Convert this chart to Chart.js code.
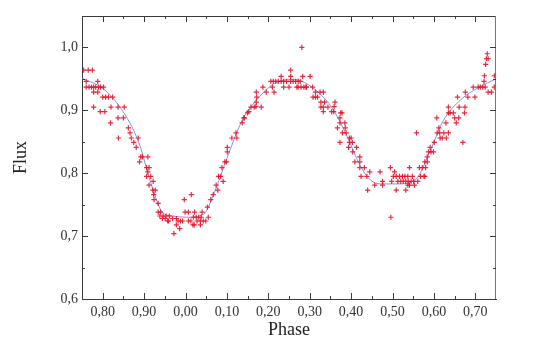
<!DOCTYPE html>
<html><head><meta charset="utf-8">
<script src="https://cdn.jsdelivr.net/npm/chart.js@4/dist/chart.umd.min.js"></script>
<style>html,body{margin:0;padding:0;background:#fff}canvas{display:block}</style>
</head><body>
<canvas id="c" width="535" height="355"></canvas>
<script>
const phase = [-0.246,-0.235,-0.225,-0.240,-0.212,-0.240,-0.233,-0.227,-0.222,-0.217,-0.210,-0.205,-0.198,-0.222,-0.212,-0.200,-0.193,-0.186,-0.176,-0.222,-0.180,-0.163,-0.148,-0.206,-0.195,-0.181,-0.163,-0.150,-0.162,-0.138,-0.134,-0.131,-0.114,-0.125,-0.119,-0.108,-0.104,-0.091,-0.111,-0.094,-0.088,-0.091,-0.094,-0.084,-0.078,-0.088,-0.079,-0.073,-0.077,-0.076,-0.066,-0.066,-0.060,-0.062,-0.054,-0.047,-0.039,-0.056,-0.049,-0.043,-0.041,-0.022,-0.014,-0.028,-0.018,-0.012,-0.007,-0.031,-0.022,-0.003,-0.001,0.007,0.014,0.007,0.013,0.018,0.021,0.019,0.026,0.032,0.038,0.028,0.036,0.043,0.049,0.022,0.040,0.036,0.053,0.055,0.061,0.067,0.074,0.078,0.080,0.085,0.088,0.091,0.095,0.099,0.101,0.101,0.112,0.124,0.122,0.137,0.141,0.142,0.150,0.153,0.158,0.166,0.170,0.171,0.172,0.171,0.183,0.187,0.195,0.214,0.210,0.206,0.212,0.218,0.224,0.231,0.237,0.244,0.231,0.254,0.254,0.260,0.266,0.272,0.254,0.237,0.250,0.269,0.272,0.279,0.286,0.292,0.283,0.301,0.281,0.277,0.291,0.307,0.314,0.325,0.333,0.308,0.314,0.319,0.327,0.336,0.327,0.333,0.344,0.333,0.353,0.358,0.361,0.359,0.375,0.378,0.373,0.373,0.385,0.367,0.386,0.379,0.388,0.396,0.400,0.373,0.396,0.403,0.394,0.413,0.404,0.421,0.409,0.421,0.421,0.432,0.445,0.470,0.424,0.438,0.476,0.457,0.476,0.440,0.495,0.498,0.513,0.520,0.526,0.532,0.538,0.545,0.502,0.509,0.517,0.524,0.530,0.537,0.548,0.505,0.537,0.541,0.553,0.509,0.532,0.496,0.558,0.541,0.565,0.551,0.561,0.568,0.576,0.578,0.572,0.580,0.578,0.584,0.584,0.587,0.593,0.591,0.601,0.599,0.607,0.608,0.614,0.612,0.615,0.620,0.630,0.624,0.635,0.629,0.635,0.639,0.635,0.647,0.650,0.660,0.654,0.661,0.675,0.657,0.674,0.670,0.676,0.682,0.699,0.695,0.707,0.712,0.718,0.724,0.721,0.722,0.725,0.727,0.731,0.729,0.731,0.739,0.746,0.746];
const flux = [0.964,0.964,0.964,0.946,0.946,0.937,0.937,0.937,0.937,0.937,0.937,0.937,0.937,0.929,0.929,0.921,0.921,0.921,0.921,0.905,0.905,0.905,0.905,0.898,0.898,0.880,0.888,0.888,0.856,0.872,0.864,0.856,0.856,0.849,0.841,0.826,0.826,0.826,0.818,0.809,0.809,0.802,0.795,0.795,0.787,0.781,0.773,0.773,0.766,0.758,0.752,0.738,0.738,0.732,0.732,0.732,0.732,0.728,0.728,0.724,0.724,0.718,0.712,0.704,0.724,0.724,0.724,0.728,0.728,0.758,0.738,0.738,0.766,0.724,0.724,0.718,0.718,0.730,0.730,0.730,0.730,0.724,0.724,0.724,0.724,0.738,0.738,0.718,0.746,0.730,0.758,0.766,0.781,0.773,0.795,0.795,0.809,0.787,0.818,0.818,0.834,0.841,0.856,0.856,0.864,0.880,0.888,0.888,0.896,0.898,0.905,0.905,0.906,0.913,0.921,0.929,0.905,0.937,0.929,0.929,0.937,0.946,0.946,0.946,0.946,0.946,0.946,0.946,0.954,0.964,0.946,0.946,0.946,0.946,0.954,0.937,0.937,0.937,0.937,0.937,0.937,0.937,0.954,0.954,1.000,0.946,0.937,0.937,0.929,0.929,0.929,0.921,0.921,0.921,0.913,0.913,0.905,0.905,0.905,0.898,0.898,0.898,0.913,0.906,0.896,0.896,0.888,0.880,0.880,0.872,0.872,0.864,0.864,0.856,0.856,0.849,0.849,0.849,0.841,0.841,0.834,0.826,0.818,0.818,0.809,0.809,0.802,0.802,0.795,0.795,0.787,0.781,0.781,0.773,0.809,0.787,0.787,0.787,0.787,0.787,0.787,0.787,0.795,0.795,0.795,0.795,0.795,0.795,0.795,0.802,0.781,0.781,0.781,0.773,0.773,0.730,0.864,0.809,0.809,0.787,0.787,0.795,0.795,0.795,0.809,0.809,0.818,0.818,0.826,0.834,0.834,0.841,0.849,0.834,0.888,0.864,0.864,0.872,0.856,0.856,0.856,0.864,0.864,0.880,0.896,0.896,0.905,0.896,0.888,0.888,0.880,0.905,0.905,0.921,0.896,0.849,0.929,0.921,0.921,0.937,0.937,0.937,0.937,0.937,0.946,0.955,0.973,0.982,0.982,0.990,0.929,0.929,0.937,0.955];
const fitPhase = [-0.25,-0.198,-0.156,-0.114,-0.081,-0.056,-0.031,0.003,0.044,0.069,0.103,0.137,0.179,0.221,0.263,0.288,0.322,0.355,0.388,0.422,0.447,0.472,0.514,0.556,0.590,0.623,0.665,0.707,0.75];
const fitFlux = [0.951,0.934,0.903,0.851,0.779,0.738,0.732,0.730,0.735,0.768,0.829,0.884,0.922,0.945,0.949,0.944,0.928,0.903,0.862,0.812,0.789,0.783,0.783,0.790,0.834,0.884,0.917,0.936,0.950];
const xTickValues = [-0.2,-0.1,0.0,0.1,0.2,0.3,0.4,0.5,0.6,0.7];
const xTickLabels = ['0,80','0,90','0,00','0,10','0,20','0,30','0,40','0,50','0,60','0,70'];
const yTickValues = [0.6,0.7,0.8,0.9,1.0];
const yTickLabels = ['0,6','0,7','0,8','0,9','1,0'];

const FONT = "'Liberation Serif', 'Times New Roman', serif";
const frameColor = '#3a3a3a';

const ticksPlugin = {
  id: 'inwardTicks',
  afterDatasetsDraw(chart) {
    const {ctx, chartArea: a, scales: {x, y}} = chart;
    ctx.save();
    ctx.strokeStyle = frameColor;
    ctx.lineWidth = 1;
    ctx.beginPath();
    ctx.moveTo(a.left, a.top + 0.5); ctx.lineTo(a.right, a.top + 0.5);
    ctx.stroke();
    ctx.strokeStyle = '#777';
    ctx.beginPath();
    ctx.moveTo(a.right - 0.5, a.top); ctx.lineTo(a.right - 0.5, a.bottom);
    ctx.stroke();
    ctx.strokeStyle = frameColor;
    ctx.beginPath();
    for (let i = -4; i <= 15; i++) {
      const v = i * 0.05;
      if (v < -0.25 + 1e-9 || v > 0.75 - 1e-9) continue;
      const px = Math.round(x.getPixelForValue(v)) + 0.5;
      const len = (i % 2 === 0) ? 6 : 3;
      ctx.moveTo(px, a.bottom); ctx.lineTo(px, a.bottom - len);
      ctx.moveTo(px, a.top); ctx.lineTo(px, a.top + len);
    }
    for (let i = 12; i <= 21; i++) {
      const v = i * 0.05;
      if (v < 0.6 + 1e-9 || v > 1.05 - 1e-9) continue;
      const py = Math.round(y.getPixelForValue(v)) + 0.5;
      const len = (i % 2 === 0) ? 6 : 3;
      ctx.moveTo(a.left, py); ctx.lineTo(a.left + len, py);
      ctx.moveTo(a.right, py); ctx.lineTo(a.right - len, py);
    }
    ctx.stroke();
    ctx.restore();
  }
};

new Chart(document.getElementById('c'), {
  type: 'scatter',
  data: {
    datasets: [
      {
        type: 'line',
        data: fitPhase.map((p, i) => ({x: p, y: fitFlux[i]})),
        borderColor: 'rgba(120,120,230,0.85)',
        borderWidth: 1,
        pointRadius: 0,
        tension: 0.4,
        cubicInterpolationMode: 'monotone',
        fill: false,
        order: 2
      },
      {
        data: phase.map((p, i) => ({x: p, y: flux[i]})),
        pointStyle: 'cross',
        pointRadius: 2.6,
        borderWidth: 1.2,
        borderColor: 'rgba(228,20,40,0.9)',
        backgroundColor: 'rgba(228,20,40,0.9)',
        order: 1
      }
    ]
  },
  options: {
    responsive: false,
    animation: false,
    events: [],
    layout: {padding: {top: 16, right: 39, left: 0, bottom: 0}},
    plugins: {legend: {display: false}, tooltip: {enabled: false}},
    scales: {
      x: {
        type: 'linear', min: -0.25, max: 0.75,
        grid: {display: false, drawTicks: false},
        border: {display: true, color: frameColor, width: 1},
        afterBuildTicks: s => { s.ticks = xTickValues.map(v => ({value: v})); },
        afterFit: s => { s.height = 56; },
        ticks: {
          padding: 5, color: '#333', maxRotation: 0, autoSkip: false,
          font: {family: FONT, size: 14},
          callback: (v, i) => xTickLabels[i]
        },
        title: {display: true, text: 'Phase', color: '#222', font: {family: FONT, size: 18}, padding: {top: 0, bottom: 14}}
      },
      y: {
        type: 'linear', min: 0.6, max: 1.05,
        grid: {display: false, drawTicks: false},
        border: {display: true, color: frameColor, width: 1},
        afterBuildTicks: s => { s.ticks = yTickValues.map(v => ({value: v})); },
        afterFit: s => { s.width = 82; },
        ticks: {
          padding: 4, color: '#333', autoSkip: false,
          font: {family: FONT, size: 14},
          callback: (v, i) => yTickLabels[i]
        },
        title: {display: true, text: 'Flux', color: '#222', font: {family: FONT, size: 18}, padding: {top: 10, bottom: 0}}
      }
    }
  },
  plugins: [ticksPlugin]
});
</script>
</body></html>
